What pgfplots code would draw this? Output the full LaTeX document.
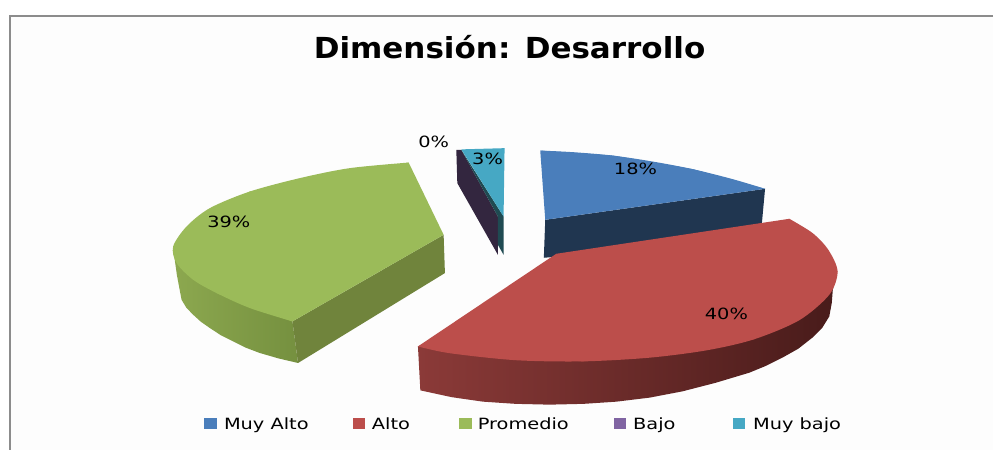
\documentclass[border=0pt]{standalone}
\usepackage{fontspec}
\usepackage{pgfplots}
\pgfplotsset{compat=1.18}
\setmainfont{DejaVu Sans}[FakeStretch=1.25]
\newfontfamily\titlefont{DejaVu Sans Bold}[FakeStretch=1.07]
\definecolor{cblue}{HTML}{4A7EBB}
\definecolor{cbluedk}{HTML}{203650}
\definecolor{cred}{HTML}{BC4E4B}
\definecolor{credL}{HTML}{8B3A38}
\definecolor{credM}{HTML}{5F2826}
\definecolor{credR}{HTML}{481B1A}
\definecolor{cgreen}{HTML}{9BBB59}
\definecolor{cgreenL}{HTML}{8CA84F}
\definecolor{cgreenR}{HTML}{75903F}
\definecolor{cgreendk}{HTML}{70843C}
\definecolor{cpurple}{HTML}{8064A2}
\definecolor{cpurpledk}{HTML}{33263F}
\definecolor{ccyan}{HTML}{46A8C4}
\definecolor{ctealdk}{HTML}{1F4A52}
\definecolor{cbg}{HTML}{FDFDFD}
\begin{document}
\begin{tikzpicture}
\begin{axis}[
  scale only axis, width=994bp, height=450bp,
  xmin=0, xmax=994, ymin=0, ymax=450, y dir=reverse,
  axis lines=none, clip=false, ticks=none,
  every axis plot/.append style={no markers, draw=none, line width=0pt},
]
% background (keeps the page the size of the picture)
\addplot[fill=white] coordinates {(0,0) (994,0) (994,450) (0,450)};
\addplot[fill=cbg] coordinates {(10,16) (994,16) (994,450) (10,450)};
% frame
\addplot[draw=gray!90, line width=1.7bp] coordinates {(994,16) (10,16) (10,450)};
% Muy Alto
\addplot[fill=cbluedk] coordinates {(545.7,220) (765.7,189) (761,240) (544.3,258)};
\addplot[fill=cblue, smooth] coordinates {(540.7,150.7)(573.3,152.3)(613.3,155.7)(653.3,161.7)(693.3,169.3)(733.3,179.3)(765.7,189)};
\addplot[fill=cblue] coordinates {(540.7,150.7)(613.3,155.7)(693.3,169.3)(765.7,189)(545.7,220)};
% Bajo
\addplot[fill=cpurpledk] coordinates {(456.7,150)(461.7,150)(498.3,216.7)(498.3,255)(457.7,183.3)};
\addplot[fill=ctealdk] coordinates {(461.7,150)(504,216.7)(504,255)(498.3,245)(498.3,216.7)};
% Muy bajo
\addplot[fill=ccyan] coordinates {(461.7,149.5)(505,148.3)(504,216.7)};
% Promedio
\addplot[left color=cgreenL, right color=cgreenR] coordinates {(173.3,246.7)(173.5,250)(177,275)(181.7,300)(186.5,308)(193.3,315)(201,322)(210,328.3)(221,335.5)(233.3,341.7)(246,348)(260,353.3)(279,358.8)(298.3,363.3)(292.7,321.7)};
\addplot[fill=cgreendk] coordinates {(292.7,321.7)(444,235)(445.3,273.3)(298.3,363.3)};
\addplot[fill=cgreen, smooth] coordinates {(409,162.7)(350,168.3)(300,178.3)(250,191.7)(210,208.3)(186.7,226.7)(173.3,246.7)(176.7,263.3)(193.3,280)(216.7,293.3)(250,308.3)(292.7,321.7)};
\addplot[fill=cgreen] coordinates {(409,162.7)(250,191.7)(173.3,246.7)(216.7,293.3)(292.7,321.7)(444,235)};
% Alto
\addplot[left color=credL, middle color=credM, right color=credR] coordinates {(418.3,346.7)(420.7,390.7)(452,397.5)(483.3,402)(516,404.2)(550,405)(584,404.2)(617,402)(650,398)(683,391.7)(716.7,383)(750,373)(767,366)(783,358)(799,349)(813,338)(823,328)(830,316.7)(832.5,303)(833.5,290)(837.7,270)(550,300)};
\addplot[fill=cred, smooth] coordinates {(790,219)(813.3,233.3)(829,250)(838.3,271.7)(830,295)(800,320.5)(755,339.5)(708,350.5)(650,358)(583,361.7)(516,360.5)(450,353.5)(418.3,346.7)};
\addplot[fill=cred] coordinates {(790,219)(838.3,271.7)(755,339.5)(583,361.7)(418.3,346.7)(556.7,254)};
% legend keys
\addplot[fill=cblue] coordinates {(204,418.5)(217,418.5)(217,429.5)(204,429.5)};
\addplot[fill=cred] coordinates {(353,418.5)(365,418.5)(365,429.5)(353,429.5)};
\addplot[fill=cgreen] coordinates {(459.5,418.5)(472,418.5)(472,429.5)(459.5,429.5)};
\addplot[fill=cpurple] coordinates {(614.5,418.5)(627,418.5)(627,429.5)(614.5,429.5)};
\addplot[fill=ccyan] coordinates {(734,418.5)(746,418.5)(746,429.5)(734,429.5)};
% texts
\node[font=\titlefont\fontsize{29bp}{32bp}\selectfont, text=black] at (axis cs:510,47) {Dimensión: Desarrollo};
\tikzset{lab/.style={font=\fontsize{15.5bp}{17bp}\selectfont, text=black, inner sep=0pt}}
\node[lab] at (axis cs:636,169) {18\%};
\node[lab] at (axis cs:727,314) {40\%};
\node[lab] at (axis cs:229,222) {39\%};
\node[lab] at (axis cs:488,159) {3\%};
\node[lab] at (axis cs:434,142) {0\%};
\tikzset{leg/.style={lab, anchor=base west}}
\node[leg] at (axis cs:224,430) {Muy Alto};
\node[leg] at (axis cs:372,430) {Alto};
\node[leg] at (axis cs:478,430) {Promedio};
\node[leg] at (axis cs:633.5,430) {Bajo};
\node[leg] at (axis cs:753.5,430) {Muy bajo};
\end{axis}
\end{tikzpicture}
\end{document}
